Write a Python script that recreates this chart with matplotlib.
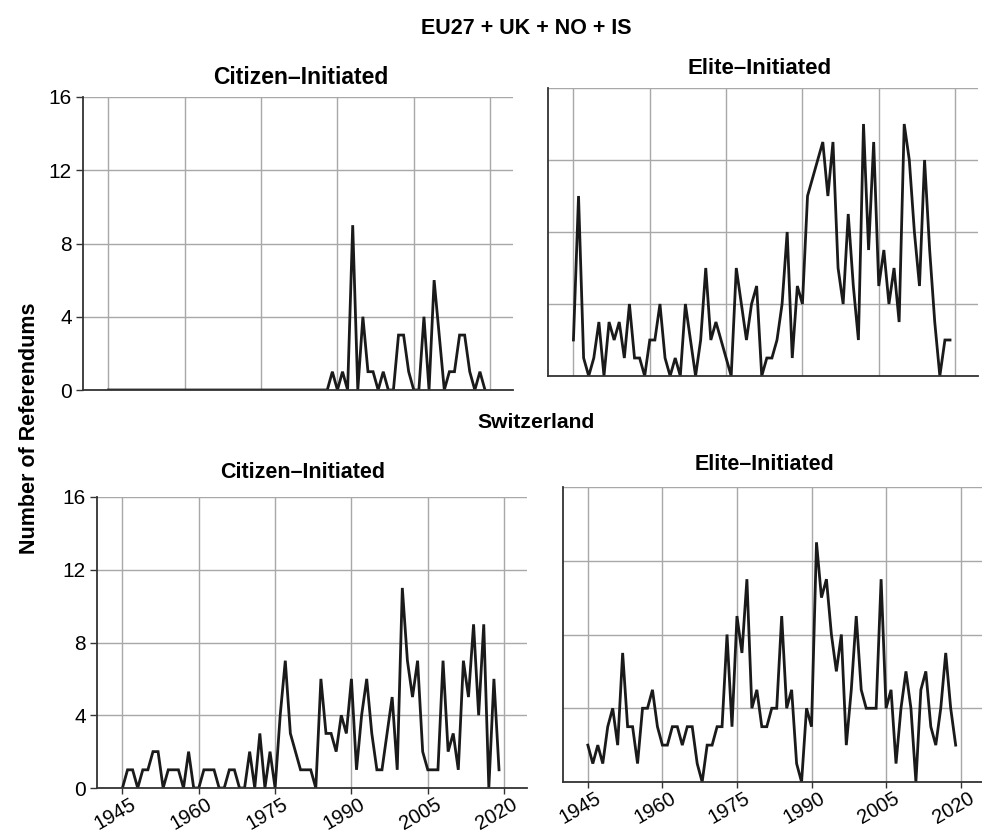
import numpy as np
import matplotlib
matplotlib.use("Agg")
import matplotlib.pyplot as plt
import matplotlib.transforms as mtransforms

plt.rcParams["font.family"] = ["Liberation Sans", "DejaVu Sans"]

years = np.arange(1945, 2020)

# referendums per year, EU27 + UK + NO + IS
eu_citizen = [0] * 44 + [
    1, 0, 1, 0, 9, 0, 4, 1, 1, 0,
    1, 0, 0, 3, 3, 1, 0, 0, 4, 0,
    6, 3, 0, 1, 1, 3, 3, 1, 0, 1,
    0,
]
eu_elite = [
    2, 10, 1, 0, 1, 3, 0, 3, 2, 3,
    1, 4, 1, 1, 0, 2, 2, 4, 1, 0,
    1, 0, 4, 2, 0, 2, 6, 2, 3, 2,
    1, 0, 6, 4, 2, 4, 5, 0, 1, 1,
    2, 4, 8, 1, 5, 4, 10, 11, 12, 13,
    10, 13, 6, 4, 9, 5, 2, 14, 7, 13,
    5, 7, 4, 6, 3, 14, 12, 8, 5, 12,
    7, 3, 0, 2, 2,
]

# referendums per year, Switzerland
ch_citizen = [
    0, 1, 1, 0, 1, 1, 2, 2, 0, 1,
    1, 1, 0, 2, 0, 0, 1, 1, 1, 0,
    0, 1, 1, 0, 0, 2, 0, 3, 0, 2,
    0, 4, 7, 3, 2, 1, 1, 1, 0, 6,
    3, 3, 2, 4, 3, 6, 1, 4, 6, 3,
    1, 1, 3, 5, 1, 11, 7, 5, 7, 2,
    1, 1, 1, 7, 2, 3, 1, 7, 5, 9,
    4, 9, 0, 6, 1,
]
ch_elite = [
    2, 1, 2, 1, 3, 4, 2, 7, 3, 3,
    1, 4, 4, 5, 3, 2, 2, 3, 3, 2,
    3, 3, 1, 0, 2, 2, 3, 3, 8, 3,
    9, 7, 11, 4, 5, 3, 3, 4, 4, 9,
    4, 5, 1, 0, 4, 3, 13, 10, 11, 8,
    6, 8, 2, 5, 9, 5, 4, 4, 4, 11,
    4, 5, 1, 4, 6, 4, 0, 5, 6, 3,
    2, 4, 7, 4, 2,
]

x_ticks = [1945, 1960, 1975, 1990, 2005, 2020]
y_ticks = [0, 4, 8, 12, 16]

W, H = 982, 832
fig = plt.figure(figsize=(W / 100, H / 100), dpi=100, facecolor="white")


def panel(left, bottom, width, height, values, ylabels, xlabels):
    ax = fig.add_axes([left / W, 1 - bottom / H, width / W, height / H])
    ax.plot(years, values, color="#1a1a1a", lw=2.0, solid_joinstyle="miter")
    ax.set_xlim(1940, 2024.5)
    ax.set_ylim(0, 16)
    ax.set_xticks(x_ticks)
    ax.set_yticks(y_ticks)
    ax.grid(True, color="#a8a8a8", lw=1.0)
    ax.set_axisbelow(True)
    for s in ["top", "right"]:
        ax.spines[s].set_visible(False)
    for s in ["left", "bottom"]:
        ax.spines[s].set_color("#333333")
        ax.spines[s].set_linewidth(1.3)
    ax.tick_params(axis="y", length=5 if ylabels else 0, width=1, color="#333333",
                   labelsize=15, labelleft=ylabels, pad=3)
    ax.tick_params(axis="x", length=4 if xlabels else 0, width=1, color="#333333",
                   labelsize=14.5, labelbottom=xlabels, pad=0)
    if xlabels:
        # nudge the slanted year labels right so they end just past the tick
        shift = mtransforms.ScaledTranslation(7 / 100, -1 / 100, fig.dpi_scale_trans)
        for lab in ax.get_xticklabels():
            lab.set_rotation(30)
            lab.set_ha("right")
            lab.set_rotation_mode("anchor")
            lab.set_transform(lab.get_transform() + shift)
    return ax


panel(83, 390, 430, 293, eu_citizen, True, False)
panel(548, 376, 430, 288, eu_elite, False, False)
panel(97, 788, 430, 291, ch_citizen, True, True)
panel(563, 782, 420, 295, ch_elite, False, True)

bold = dict(fontweight="bold", ha="center", va="center")
fig.text(526 / W, 1 - 28 / H, "EU27 + UK + NO + IS", fontsize=15.5, **bold)
fig.text(301 / W, 1 - 78 / H, "Citizen–Initiated", fontsize=16.5, **bold)
fig.text(760 / W, 1 - 68 / H, "Elite–Initiated", fontsize=16, **bold)
fig.text(536 / W, 1 - 422 / H, "Switzerland", fontsize=15.2, **bold)
fig.text(303 / W, 1 - 472 / H, "Citizen–Initiated", fontsize=15.5, **bold)
fig.text(765 / W, 1 - 465 / H, "Elite–Initiated", fontsize=15.5, **bold)
fig.text(30 / W, 1 - 428 / H, "Number of Referendums", rotation=90, fontsize=15.5, **bold)

fig.savefig("out.png", dpi=100, facecolor="white")
